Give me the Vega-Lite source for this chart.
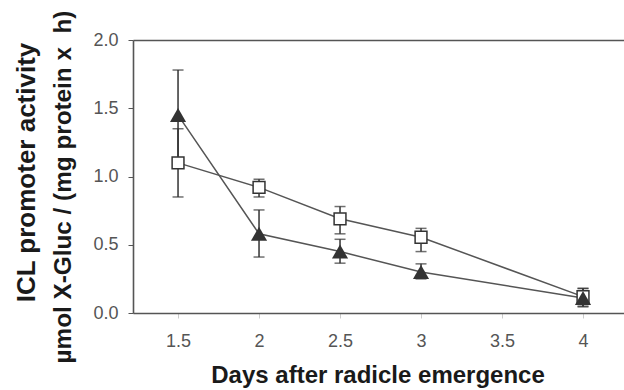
{
  "$schema": "https://vega.github.io/schema/vega-lite/v6.json",
  "width": 491,
  "height": 273,
  "autosize": {"type": "none"},
  "padding": {"left": 133, "top": 40, "right": 0, "bottom": 77},
  "title": {
    "text": "ICL promoter activity",
    "orient": "left",
    "anchor": "middle",
    "font": "Liberation Sans",
    "fontSize": 26,
    "fontWeight": "bold",
    "color": "#1a1a1a",
    "dx": 4,
    "offset": 11
  },
  "config": {
    "view": {"stroke": null},
    "font": "Liberation Sans",
    "axis": {
      "grid": false,
      "domainColor": "#555",
      "domainWidth": 1.6,
      "labelFont": "Liberation Sans",
      "labelFontSize": 18,
      "labelColor": "#555",
      "titleFont": "Liberation Sans",
      "titleFontSize": 24,
      "titleFontWeight": "bold",
      "titleColor": "#1a1a1a"
    }
  },
  "data": {
    "values": [
      {"day": 1.5, "series": "tri", "value": 1.45, "lo": 1.12, "hi": 1.78},
      {"day": 2, "series": "tri", "value": 0.58, "lo": 0.41, "hi": 0.755},
      {"day": 2.5, "series": "tri", "value": 0.45, "lo": 0.365, "hi": 0.54},
      {"day": 3, "series": "tri", "value": 0.3, "lo": 0.25, "hi": 0.36},
      {"day": 4, "series": "tri", "value": 0.11, "lo": 0.05, "hi": 0.18},
      {"day": 1.5, "series": "sq", "value": 1.1, "lo": 0.85, "hi": 1.35},
      {"day": 2, "series": "sq", "value": 0.92, "lo": 0.85, "hi": 0.98},
      {"day": 2.5, "series": "sq", "value": 0.69, "lo": 0.58, "hi": 0.78},
      {"day": 3, "series": "sq", "value": 0.555, "lo": 0.45, "hi": 0.62},
      {"day": 4, "series": "sq", "value": 0.12, "lo": 0.045, "hi": 0.18}
    ]
  },
  "resolve": {"axis": {"x": "independent", "y": "independent"}},
  "layer": [
    {
      "mark": {"type": "line", "color": "#555", "strokeWidth": 1.5},
      "encoding": {
        "x": {
          "field": "day", "type": "quantitative",
          "scale": {"domain": [1.222, 4.253], "nice": false, "zero": false},
          "axis": {
            "values": [1.5, 2, 2.5, 3, 3.5, 4],
            "format": "~g",
            "tickSize": 5,
            "tickColor": "#ccc",
            "labelPadding": 14,
            "title": "Days after radicle emergence",
            "titleX": 244.5,
            "titleY": 69,
            "titleAnchor": null,
            "titleAlign": "center",
            "titleBaseline": "alphabetic"
          }
        },
        "y": {
          "field": "value", "type": "quantitative",
          "scale": {"domain": [0, 2], "nice": false},
          "axis": {
            "values": [0, 0.5, 1, 1.5, 2],
            "format": ".1f",
            "tickSize": 5,
            "tickColor": "#555",
            "labelPadding": 10,
            "title": "µmol X-Gluc / (mg protein x\u00a0 h)",
            "titleFontSize": 24.3,
            "titleAngle": -90,
            "titleX": -63,
            "titleY": 146.5,
            "titleAlign": "center",
            "titleBaseline": "alphabetic"
          }
        },
        "detail": {"field": "series"}
      }
    },
    {
      "mark": {"type": "point", "opacity": 0},
      "encoding": {
        "x": {"field": "day", "type": "quantitative", "axis": {"orient": "top", "labels": false, "ticks": false, "title": null, "domain": true}},
        "y": {"field": "value", "type": "quantitative", "axis": null}
      }
    },
    {
      "mark": {"type": "errorbar", "color": "#333", "thickness": 1.5, "ticks": {"size": 11, "color": "#333", "thickness": 1.5}},
      "encoding": {
        "x": {"field": "day", "type": "quantitative", "axis": null},
        "y": {"field": "lo", "type": "quantitative", "axis": null},
        "y2": {"field": "hi"},
        "detail": {"field": "series"}
      }
    },
    {
      "transform": [{"filter": "datum.series === 'sq'"}],
      "mark": {"type": "point", "shape": "square", "size": 140, "filled": true, "fill": "white", "stroke": "#333", "strokeWidth": 1.5, "opacity": 1},
      "encoding": {
        "x": {"field": "day", "type": "quantitative", "axis": null},
        "y": {"field": "value", "type": "quantitative", "axis": null}
      }
    },
    {
      "transform": [{"filter": "datum.series === 'tri'"}],
      "mark": {"type": "point", "shape": "triangle-up", "size": 260, "filled": true, "color": "#333", "opacity": 1},
      "encoding": {
        "x": {"field": "day", "type": "quantitative", "axis": null},
        "y": {"field": "value", "type": "quantitative", "axis": null}
      }
    }
  ]
}
